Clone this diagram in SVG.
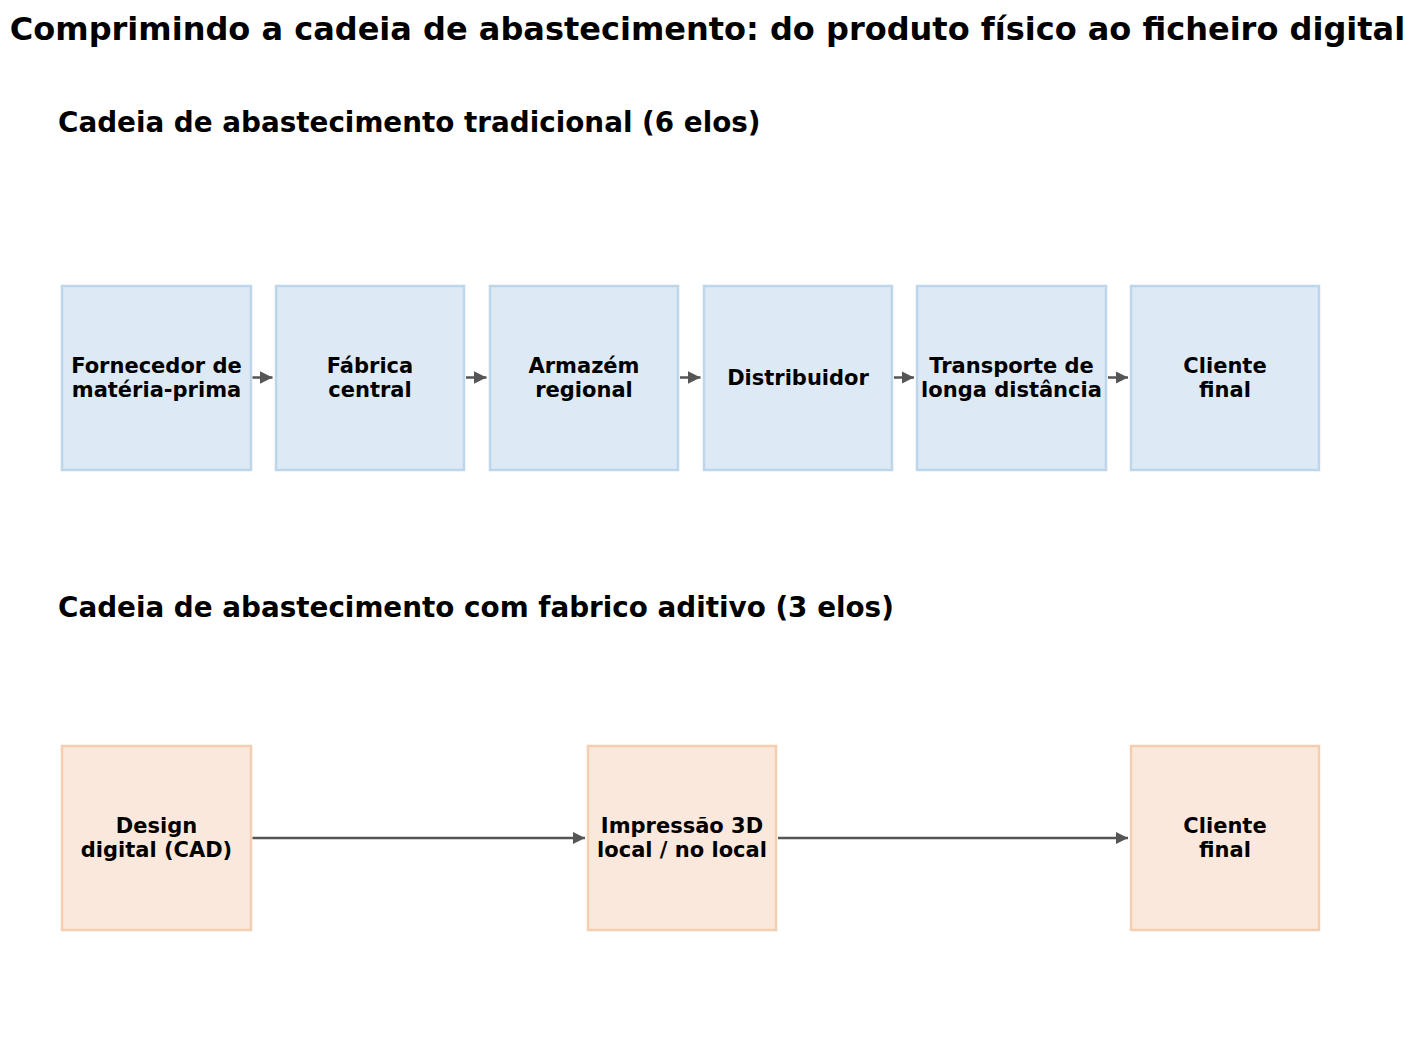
<svg xmlns="http://www.w3.org/2000/svg" width="1415" height="1037" viewBox="0 0 1415 1037">
<defs>
<style>
text{font-family:"DejaVu Sans","Liberation Sans",sans-serif;font-weight:bold;fill:#000}
.title{font-size:32px}
.sub{font-size:27.8px}
.lbl{font-size:21px;text-anchor:middle}
.blue{fill:#dde9f5;stroke:#bed6ea;stroke-width:2.5}
.orange{fill:#fbe8dc;stroke:#f5cdb0;stroke-width:2.5}
.conn{stroke:#555555;stroke-width:2.5;fill:none}
</style>
<marker id="ah" viewBox="0 0 12 12" markerWidth="12.5" markerHeight="12.5" refX="12" refY="6" orient="auto" markerUnits="userSpaceOnUse">
<path d="M0,0 L12,6 L0,12 z" fill="#555555"/>
</marker>
</defs>
<rect width="1415" height="1037" fill="#ffffff"/>
<text class="title" x="707.5" y="40" text-anchor="middle">Comprimindo a cadeia de abastecimento: do produto físico ao ficheiro digital</text>
<text class="sub" x="58" y="132">Cadeia de abastecimento tradicional (6 elos)</text>
<text class="sub" x="58" y="617">Cadeia de abastecimento com fabrico aditivo (3 elos)</text>

<g id="t1"><rect class="blue" x="62" y="286" width="189" height="184"/><text class="lbl" x="156.5" y="372.5">Fornecedor de</text><text class="lbl" x="156.5" y="396.5">matéria-prima</text></g>
<g id="t2"><rect class="blue" x="276" y="286" width="188" height="184"/><text class="lbl" x="370" y="372.5">Fábrica</text><text class="lbl" x="370" y="396.5">central</text></g>
<g id="t3"><rect class="blue" x="490" y="286" width="188" height="184"/><text class="lbl" x="584" y="372.5">Armazém</text><text class="lbl" x="584" y="396.5">regional</text></g>
<g id="t4"><rect class="blue" x="704" y="286" width="188" height="184"/><text class="lbl" x="798" y="384.5">Distribuidor</text></g>
<g id="t5"><rect class="blue" x="917" y="286" width="189" height="184"/><text class="lbl" x="1011.5" y="372.5">Transporte de</text><text class="lbl" x="1011.5" y="396.5">longa distância</text></g>
<g id="t6"><rect class="blue" x="1131" y="286" width="188" height="184"/><text class="lbl" x="1225" y="372.5">Cliente</text><text class="lbl" x="1225" y="396.5">final</text></g>

<g id="a1"><rect class="orange" x="62" y="746" width="189" height="184"/><text class="lbl" x="156.5" y="832.5">Design</text><text class="lbl" x="156.5" y="856.5">digital (CAD)</text></g>
<g id="a2"><rect class="orange" x="588" y="746" width="188" height="184"/><text class="lbl" x="682" y="832.5">Impressão 3D</text><text class="lbl" x="682" y="856.5">local / no local</text></g>
<g id="a3"><rect class="orange" x="1131" y="746" width="188" height="184"/><text class="lbl" x="1225" y="832.5">Cliente</text><text class="lbl" x="1225" y="856.5">final</text></g>

<g id="connectors">
<line class="conn" x1="252.5" y1="377.5" x2="272.5" y2="377.5" marker-end="url(#ah)"/>
<line class="conn" x1="466" y1="377.5" x2="486.5" y2="377.5" marker-end="url(#ah)"/>
<line class="conn" x1="680" y1="377.5" x2="700.5" y2="377.5" marker-end="url(#ah)"/>
<line class="conn" x1="894" y1="377.5" x2="914" y2="377.5" marker-end="url(#ah)"/>
<line class="conn" x1="1108" y1="377.5" x2="1128" y2="377.5" marker-end="url(#ah)"/>
<line class="conn" x1="252.5" y1="838" x2="585" y2="838" marker-end="url(#ah)"/>
<line class="conn" x1="778" y1="838" x2="1128" y2="838" marker-end="url(#ah)"/>
</g>
</svg>
